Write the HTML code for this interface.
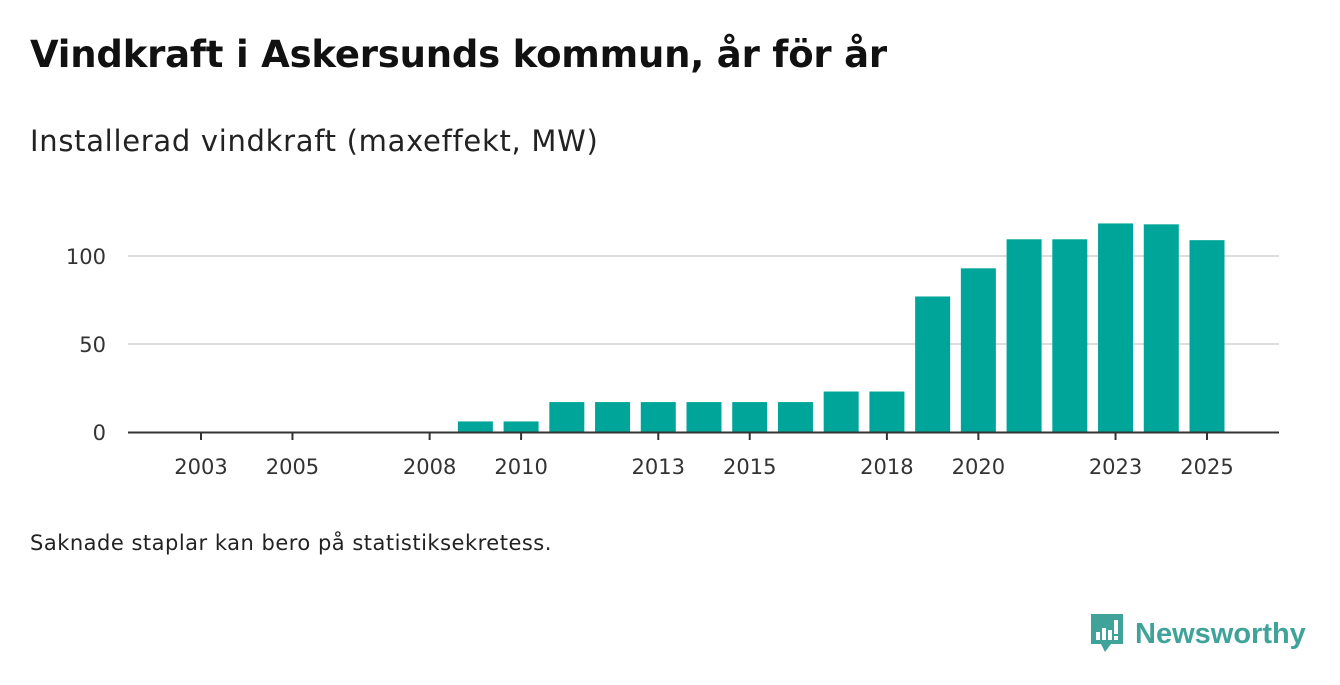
<!DOCTYPE html>
<html><head><meta charset="utf-8">
<style>
body{margin:0;width:1340px;height:685px;background:#fff;font-family:"DejaVu Sans","Liberation Sans",sans-serif;overflow:hidden;position:relative;color:#111}
#title{position:absolute;left:30px;top:33px;font-size:37px;font-weight:bold;margin:0;letter-spacing:-0.2px}
#sub{position:absolute;left:30px;top:124px;font-size:29px;color:#222;letter-spacing:0.7px}
#note{position:absolute;left:30px;top:531px;font-size:21px;color:#222;letter-spacing:0.5px}
svg{position:absolute;left:0;top:0}
</style></head><body>
<h1 id="title">Vindkraft i Askersunds kommun, år för år</h1>
<div id="sub">Installerad vindkraft (maxeffekt, MW)</div>
<div id="note">Saknade staplar kan bero på statistiksekretess.</div>
<svg id="chart" width="1340" height="685"></svg>
<div style="position:absolute;left:1089px;top:612px;display:flex;align-items:center">
<svg width="36" height="44" style="position:static"><path d="M2 2h32v30H22l-6 8-4-8H2z" fill="#3fa39a"/><rect x="7" y="20" width="4" height="8" fill="#fff"/><rect x="13" y="16" width="4" height="12" fill="#fff"/><rect x="19" y="18" width="4" height="10" fill="#fff"/><rect x="25" y="8" width="4" height="14" fill="#fff"/><rect x="25" y="24" width="4" height="4" fill="#fff"/></svg>
<span style="color:#3fa39a;font-size:29px;font-weight:bold;margin-left:10px;font-family:'Liberation Sans',sans-serif">Newsworthy</span></div>
<script>
const years=[2009,2010,2011,2012,2013,2014,2015,2016,2017,2018,2019,2020,2021,2022,2023,2024,2025];
const values=[6,6,17,17,17,17,17,17,23,23,77,93,109.5,109.5,118.5,118,109];
const yTicks=[0,50,100];
const xTicks=[2003,2005,2008,2010,2013,2015,2018,2020,2023,2025];
const NS='http://www.w3.org/2000/svg';
const svg=document.getElementById('chart');
const x=y=>201+(y-2003)*(1006/22);
const yS=v=>432-v*1.76;
function el(t,a){const e=document.createElementNS(NS,t);for(const k in a)e.setAttribute(k,a[k]);svg.appendChild(e);return e;}
yTicks.forEach(t=>{
 if(t>0){const g=el('line',{x1:128,x2:1279,y1:yS(t),y2:yS(t),stroke:'#ddd','stroke-width':2});
 
 }
 const l=el('text',{x:106,y:yS(t)+8,'text-anchor':'end','font-size':21,fill:'#333','font-family':'DejaVu Sans, sans-serif'});
 l.textContent=t;
 
 
});
years.forEach((yr,i)=>{
 const r=el('rect',{x:x(yr)-17.5,y:yS(values[i]),width:35,height:432-yS(values[i]),fill:'#00a599'});
 
 
});
const ax=el('line',{x1:128,x2:1279,y1:432.5,y2:432.5,stroke:'#333','stroke-width':2});


xTicks.forEach(t=>{
 const k=el('line',{x1:x(t),x2:x(t),y1:432,y2:440,stroke:'#333','stroke-width':2});
 
 
 const l=el('text',{x:x(t),y:474,'text-anchor':'middle','font-size':21,fill:'#333','font-family':'DejaVu Sans, sans-serif'});
 l.textContent=t;
 
 
});
</script>
</body></html>
